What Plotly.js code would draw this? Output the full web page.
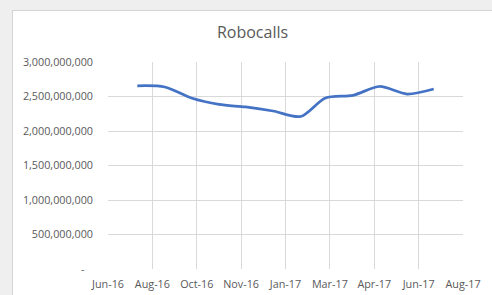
<!DOCTYPE html>
<html>
<head>
<meta charset="utf-8">
<script src="https://cdn.plot.ly/plotly-3.0.1.min.js"></script>
<style>
  html, body { margin: 0; padding: 0; width: 492px; height: 295px; overflow: hidden; background: #efefef; }
  #frame { position: absolute; left: 12px; top: 10px; width: 480px; height: 285px; background: #ffffff; border-left: 1px solid #d4d4d4; border-top: 1px solid #d4d4d4; }
  #chart { position: absolute; left: 13px; top: 11px; width: 479px; height: 284px; }
</style>
</head>
<body>
<div id="frame"></div>
<div id="chart"></div>
<script>
// Data
const months = ["2016-08-01","2016-09-01","2016-10-01","2016-11-01","2016-12-01","2017-01-01",
                "2017-02-01","2017-03-01","2017-04-01","2017-05-01","2017-06-01","2017-07-01"];
const robocalls = [2655000000, 2638000000, 2478000000, 2385000000, 2348000000, 2290000000,
                   2210000000, 2478000000, 2517000000, 2645000000, 2536000000, 2609000000];

const xTickVals = ["2016-06-29","2016-08-18","2016-10-07","2016-11-26","2017-01-15",
                   "2017-03-06","2017-04-25","2017-06-14","2017-08-03"];
const xTickText = ["Jun-16","Aug-16","Oct-16","Nov-16","Jan-17","Mar-17","Apr-17","Jun-17","Aug-17"];
const yTickVals = [0, 500000000, 1000000000, 1500000000, 2000000000, 2500000000, 3000000000];
const yTickText = ["-   ", "500,000,000", "1,000,000,000", "1,500,000,000", "2,000,000,000", "2,500,000,000", "3,000,000,000"];

const trace = {
  x: months,
  y: robocalls,
  type: "scatter",
  mode: "lines",
  line: { color: "#4472C4", width: 2.75, shape: "spline", smoothing: 0.8 },
  hoverinfo: "skip"
};

const font = { family: "Open Sans, Noto Sans, sans-serif", size: 10.8, color: "#595959" };

const layout = {
  width: 479,
  height: 284,
  margin: { l: 95, r: 29, t: 51, b: 26 },
  paper_bgcolor: "#ffffff",
  plot_bgcolor: "#ffffff",
  showlegend: false,
  font: font,
  title: {
    text: "Robocalls",
    font: { family: "Open Sans, Noto Sans, sans-serif", size: 16, color: "#595959" },
    x: 0.5, xanchor: "center",
    xref: "container",
    y: 0.925, yanchor: "middle", yref: "container"
  },
  xaxis: {
    type: "date",
    range: [xTickVals[0], xTickVals[xTickVals.length - 1]],
    tickmode: "array",
    tickvals: xTickVals,
    ticktext: xTickText,
    showgrid: true,
    gridcolor: "#d9d9d9",
    gridwidth: 1,
    zeroline: false,
    showline: false,
    ticks: "",
    ticklen: 0,
    ticklabelstandoff: 7,
    tickfont: font,
    fixedrange: true
  },
  yaxis: {
    range: [0, 3000000000],
    tickmode: "array",
    tickvals: yTickVals,
    ticktext: yTickText,
    showgrid: true,
    gridcolor: "#d9d9d9",
    gridwidth: 1,
    zeroline: false,
    showline: false,
    ticks: "",
    ticklen: 0,
    ticklabelstandoff: 14,
    tickfont: font,
    fixedrange: true
  }
};

Plotly.newPlot("chart", [trace], layout, { displayModeBar: false, staticPlot: true });
</script>
</body>
</html>
